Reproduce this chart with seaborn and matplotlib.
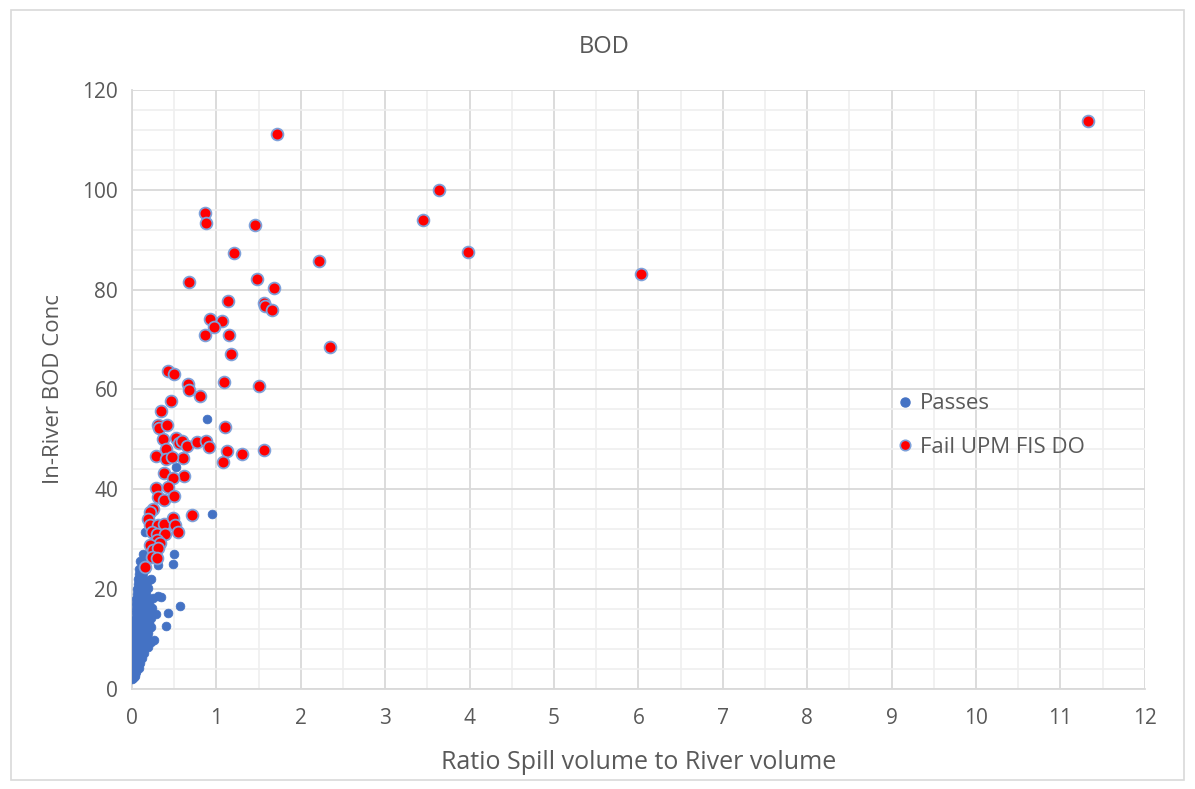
import matplotlib
matplotlib.use("Agg")
import matplotlib.pyplot as plt
from matplotlib.lines import Line2D
from matplotlib.patches import Rectangle
from matplotlib.ticker import MultipleLocator
import seaborn as sns
import pandas as pd

# ---- data ----
fail_x = [11.33, 1.72, 3.64, 0.865, 0.877, 3.45, 1.46, 1.21, 2.22, 3.98,
          0.68, 1.485, 1.686, 6.03, 1.137, 1.564, 1.572, 1.66, 0.92, 1.063,
          0.968, 0.861, 1.146, 1.177, 2.34, 0.43, 0.494, 0.667, 0.68, 1.094,
          1.50, 0.81, 0.458, 1.106, 0.344, 0.31, 0.323, 0.41, 0.364, 0.518,
          0.557, 0.59, 0.648, 0.774, 0.873, 0.908, 1.13, 1.30, 1.564, 1.075,
          0.60, 0.406, 0.28, 0.40, 0.47, 0.616, 0.383, 0.482, 0.28, 0.423,
          0.304, 0.375, 0.494, 0.253, 0.213, 0.715, 0.193, 0.213, 0.31, 0.383,
          0.49, 0.51, 0.233, 0.292, 0.391, 0.54, 0.30, 0.33, 0.213, 0.253,
          0.31, 0.233, 0.29, 0.154]
fail_y = [113.8, 111.2, 100.0, 95.3, 93.3, 94.0, 92.9, 87.3, 85.8, 87.6,
          81.6, 82.2, 80.3, 83.2, 77.8, 77.4, 76.7, 76.0, 74.1, 73.8,
          72.5, 70.9, 70.9, 67.2, 68.5, 63.8, 63.1, 61.1, 59.9, 61.5,
          60.6, 58.6, 57.6, 52.5, 55.6, 52.9, 52.2, 52.9, 50.1, 50.2,
          49.2, 49.6, 48.7, 49.4, 49.6, 48.4, 47.6, 47.0, 47.9, 45.5,
          46.2, 48.1, 46.7, 46.0, 46.5, 42.7, 43.2, 42.3, 40.2, 40.4,
          38.5, 37.9, 38.7, 36.1, 35.4, 34.9, 34.1, 32.9, 32.9, 33.0,
          34.2, 32.9, 31.5, 31.0, 31.0, 31.5, 29.9, 29.2, 28.9, 27.8,
          28.2, 26.5, 26.2, 24.5]

pass_x = [0.889, 0.95, 0.518, 0.134, 0.50, 0.48, 0.154, 0.31, 0.569, 0.423, 0.40, 0.31,
          0.00, 0.01, 0.02, 0.03,
          0.00, 0.02, 0.04, 0.05,
          0.01, 0.03, 0.06, 0.08,
          0.01, 0.04, 0.07, 0.10,
          0.02, 0.05, 0.08, 0.12,
          0.02, 0.05, 0.09, 0.14,
          0.02, 0.06, 0.10, 0.15, 0.19,
          0.03, 0.07, 0.11, 0.16, 0.22,
          0.03, 0.07, 0.12, 0.18, 0.26,
          0.03, 0.08, 0.13, 0.19,
          0.04, 0.08, 0.14, 0.20, 0.23,
          0.04, 0.09, 0.14, 0.20,
          0.04, 0.09, 0.15, 0.22, 0.28,
          0.05, 0.10, 0.15, 0.20,
          0.05, 0.10, 0.16, 0.24,
          0.05, 0.10, 0.15, 0.20,
          0.05, 0.11, 0.17, 0.25, 0.34,
          0.06, 0.11, 0.16,
          0.06, 0.10, 0.15, 0.19,
          0.07, 0.12, 0.17,
          0.07, 0.12, 0.20, 0.23,
          0.08, 0.13,
          0.08, 0.12, 0.16,
          0.10, 0.13]
pass_y = [54.0, 35.1, 44.5, 27.0, 27.1, 25.0, 31.5, 24.8, 16.6, 15.3, 12.7, 18.6,
          2.0, 2.2, 2.4, 2.6,
          3.0, 3.2, 3.1, 3.4,
          4.0, 4.2, 4.1, 4.3,
          5.0, 5.1, 5.3, 5.2,
          6.0, 6.2, 6.1, 6.3,
          7.0, 7.2, 7.1, 7.3,
          8.0, 8.2, 8.1, 8.3, 8.5,
          9.0, 9.2, 9.1, 9.3, 9.5,
          10.0, 10.2, 10.1, 10.3, 9.8,
          11.0, 11.2, 11.1, 11.3,
          12.0, 12.2, 12.1, 12.3, 12.5,
          13.0, 13.2, 13.1, 13.3,
          14.0, 14.2, 14.1, 14.3, 15.0,
          15.2, 15.4, 15.1, 15.3,
          16.0, 16.2, 16.1, 16.3,
          17.0, 17.2, 17.1, 17.3,
          18.0, 18.2, 18.1, 18.3, 18.5,
          19.0, 19.2, 19.1,
          20.0, 20.2, 20.1, 20.3,
          21.0, 21.2, 21.1,
          22.0, 22.2, 21.8, 22.1,
          23.0, 23.2,
          24.0, 24.2, 24.1,
          25.6, 25.4]

pass_label = "Passes"
fail_label = "Fail UPM FIS DO"
title_text = "BOD"
x_label = "Ratio Spill volume to River volume"
y_label = "In-River BOD Conc"

passes = pd.DataFrame({"x": pass_x, "y": pass_y})
fails = pd.DataFrame({"x": fail_x, "y": fail_y})

# ---- style ----
sns.set_style("white")
plt.rcParams["font.family"] = ["Open Sans", "DejaVu Sans"]
text_col = "#595959"

fig = plt.figure(figsize=(11.95, 7.89), dpi=100)
ax = fig.add_axes([0.1105, 0.1267, 0.8475, 0.7593])

blue = "#4472C4"
sns.scatterplot(data=passes, x="x", y="y", ax=ax, color=blue, s=40,
                edgecolor=blue, linewidth=0.5, zorder=3, legend=False)
sns.scatterplot(data=fails, x="x", y="y", ax=ax, color="#FF0000", s=72,
                edgecolor="#7EA1DA", linewidth=1.3, zorder=4, legend=False)

ax.set_xlim(0, 12)
ax.set_ylim(0, 120)
ax.xaxis.set_major_locator(MultipleLocator(1))
ax.xaxis.set_minor_locator(MultipleLocator(0.5))
ax.yaxis.set_major_locator(MultipleLocator(20))
ax.yaxis.set_minor_locator(MultipleLocator(4))
ax.grid(which="major", color="#D9D9D9", linewidth=1.3, zorder=0)
ax.grid(which="minor", color="#EFEFEF", linewidth=1.2, zorder=0)
ax.set_axisbelow(True)

for side in ["top", "right"]:
    ax.spines[side].set_visible(False)
for side in ["left", "bottom"]:
    ax.spines[side].set_color("#D9D9D9")
    ax.spines[side].set_linewidth(1.3)

ax.tick_params(axis="both", which="both", length=0, labelsize=15, colors=text_col)
ax.tick_params(axis="x", pad=14)
ax.tick_params(axis="y", pad=10)
ax.set_xlabel(x_label, fontsize=18, color=text_col, labelpad=15)
ax.set_ylabel(y_label, fontsize=16, color=text_col, labelpad=13)
fig.text(0.506, 0.941, title_text, fontsize=17, color=text_col, ha="center", va="center")

handles = [
    Line2D([], [], marker="o", linestyle="none", markersize=6.5,
           markerfacecolor=blue, markeredgecolor=blue),
    Line2D([], [], marker="o", linestyle="none", markersize=7.5,
           markerfacecolor="#FF0000", markeredgecolor="#7EA1DA", markeredgewidth=1.2),
]
leg = ax.legend(handles, [pass_label, fail_label], loc="center left",
                bbox_to_anchor=(0.754, 0.44), frameon=False, fontsize=16,
                labelspacing=1.0, handletextpad=0.3, handlelength=0.8,
                borderpad=0, borderaxespad=0)
for t in leg.get_texts():
    t.set_color(text_col)

fig.patches.append(Rectangle((0.009, 0.012), 0.982, 0.975, transform=fig.transFigure,
                             fill=False, edgecolor="#D9D9D9", linewidth=1.2))

fig.savefig("out.png", dpi=100)
